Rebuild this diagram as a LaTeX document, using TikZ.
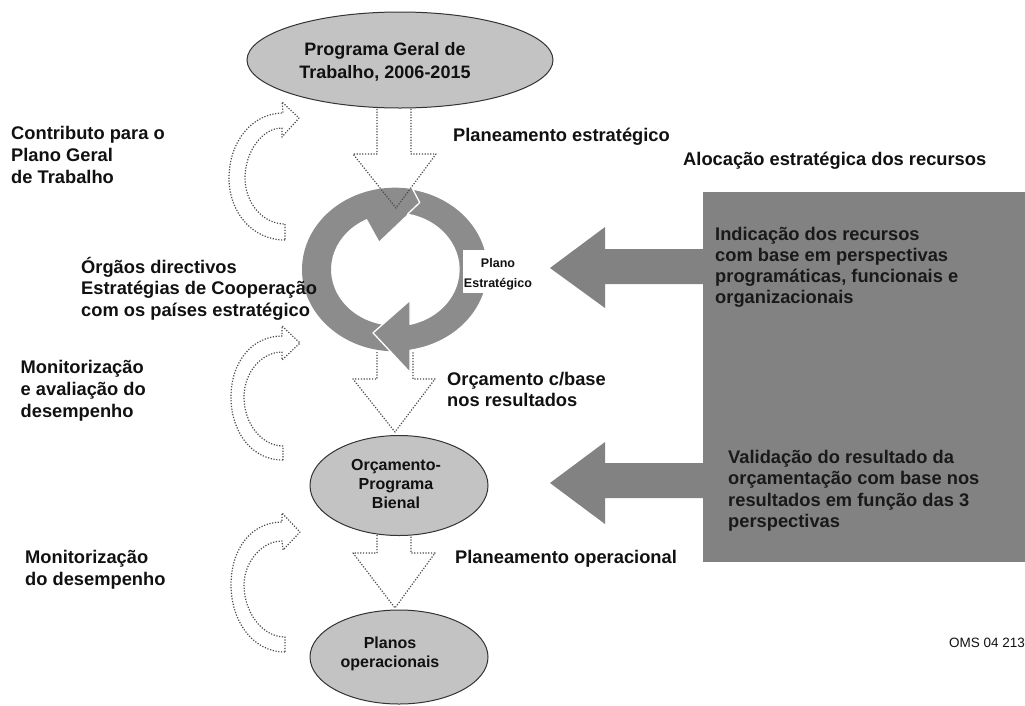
\documentclass[tikz,border=0pt]{standalone}
\usepackage{fontspec}
\setmainfont{Liberation Sans}
\usetikzlibrary{shapes.geometric}
\definecolor{ringgrey}{HTML}{8C8C8C}
\definecolor{boxgrey}{HTML}{828282}
\definecolor{ellfill}{HTML}{C3C3C3}
\definecolor{dotcol}{HTML}{4A4A4A}
\definecolor{txt}{HTML}{111111}
\begin{document}
\begin{tikzpicture}[x=1pt,y=-1pt,
  lbl/.style={font=\fontsize{18.3}{22}\selectfont\bfseries, text=txt, align=left, anchor=base west, inner sep=0pt},
  boxlbl/.style={font=\fontsize{18.3}{21}\selectfont\bfseries, text=black!90, align=left, anchor=base west, inner sep=0pt},
  elltxt/.style={font=\fontsize{16}{19}\selectfont\bfseries, text=txt, align=center, anchor=base, inner sep=0pt},
  ell/.style={ellipse, draw=black!80, line width=1pt, fill=ellfill, inner sep=0pt},
  dotarrow/.style={draw=dotcol, line width=1.2pt, dash pattern=on 1.2pt off 1.6pt, line join=round},
  bigarrow/.style={fill=boxgrey}]
\clip (0,0) rectangle (1025,705);
\useasboundingbox (0,0) rectangle (1025,705);

% right grey box and block arrows
\node[fill=boxgrey, inner sep=0pt, minimum width=330pt, minimum height=370pt, anchor=north west] (rbox) at (703,192) {};
\fill[bigarrow] (710,249) -- (605,249) -- (605,227) -- (550,268) -- (605,308) -- (605,284) -- (710,284) -- cycle;
\fill[bigarrow] (710,463) -- (605,463) -- (605,442) -- (550,483) -- (605,524) -- (605,498) -- (710,498) -- cycle;

% dotted arrow cycle -> budget (under the cycle)
\draw[dotarrow] (377,352) -- (377,379) -- (353,379) -- (395,432) -- (435,379) -- (413,379) -- (413,352);

% cycle
\begin{scope}[shift={(395,269.5)}, yscale=-0.88]
 \fill[ringgrey] (-12.72,-62.72) -- (-22,-72) -- (-4.84,-92.88)
   arc[start angle=267.02, end angle=79, radius=93]
   -- (24.72,76.08) -- (-15.78,32.36) -- (-28.06,57.52)
   arc[start angle=116, end angle=258.54, radius=64] -- cycle;
 \filldraw[fill=ringgrey, draw=white, line width=1.3pt, line join=round]
   (17.75,91.29) -- (24.72,76.08) -- (12.40,62.78)
   arc[start angle=78.83, end angle=-76.4, radius=64]
   -- (15,-35) -- (-22,-72) -- (15,-117) -- (15,-91.8)
   arc[start angle=-80.7, end angle=79, radius=93] -- cycle;
\end{scope}
\node[fill=white, inner sep=0pt, minimum width=82pt, minimum height=43pt, anchor=north west] (pebox) at (463,250) {};
\node[font=\fontsize{12.5}{20}\selectfont\bfseries, text=txt, align=center, anchor=base, inner sep=0pt] (pe) at (498,287) {Plano\\Estratégico};

% dotted arrow top ellipse -> cycle (over the cycle)
\draw[dotarrow] (377,106) -- (377,154) -- (353,154) -- (396,208) -- (436,154) -- (411,154) -- (411,106);
% dotted arrow budget -> operational plans
\draw[dotarrow] (377,535) -- (377,553) -- (353,553) -- (395,608) -- (435,553) -- (411,553) -- (411,535);

% ellipses
\node[ell, minimum width=306pt, minimum height=96pt] (pg) at (400,60) {};
\node[font=\fontsize{18}{23}\selectfont\bfseries, text=txt, align=center, anchor=base, inner sep=0pt] (pgt) at (385,78) {Programa Geral de\\Trabalho, 2006-2015};
\node[ell, minimum width=178pt, minimum height=100pt] (ob) at (399,485.5) {};
\node[elltxt] (obt) at (396,508) {Orçamento-\\Programa\\Bienal};
\node[ell, minimum width=178pt, minimum height=94pt] (po) at (399,657) {};
\node[elltxt] (pot) at (390,667) {Planos\\operacionais};

% curved dotted arrows
\draw[dotarrow] (285,240) .. controls (252,240) and (229,212) .. (229,178)
  .. controls (229,142) and (252,113) .. (283,113) -- (282,102) -- (299,118) -- (282,137) -- (282,128)
  .. controls (262,128) and (245,152) .. (245,178) .. controls (245,202) and (262,224) .. (285,224) -- cycle;
\draw[dotarrow] (283,460) .. controls (250,460) and (231,430) .. (231,397)
  .. controls (231,362) and (252,336) .. (282,336) -- (282,326) -- (300,343) -- (282,360) -- (282,352)
  .. controls (262,352) and (244,372) .. (244,397) .. controls (244,424) and (262,446) .. (283,446) -- cycle;
\draw[dotarrow] (285,652) .. controls (252,652) and (231,620) .. (231,585)
  .. controls (231,548) and (252,522) .. (282,522) -- (282,513) -- (300,532) -- (283,550) -- (282,541)
  .. controls (262,541) and (244,562) .. (244,585) .. controls (244,612) and (262,637) .. (285,637) -- cycle;

% labels (anchor = baseline of the last line)
\node[lbl] (contrib) at (11,183) {Contributo para o\\Plano Geral\\de Trabalho};
\node[lbl] (plest) at (453,141.5) {Planeamento estratégico};
\node[lbl] (aloc) at (683,165) {Alocação estratégica dos recursos};
\node[lbl, font=\fontsize{18.3}{21.8}\selectfont\bfseries] (orgaos) at (81,316.6) {Órgãos directivos\\Estratégias de Cooperação\\com os países estratégico};
\node[lbl] (monav) at (20.5,417) {Monitorização\\e avaliação do\\desempenho};
\node[lbl, font=\fontsize{18.3}{21}\selectfont\bfseries] (orcres) at (447,406) {Orçamento c/base\\nos resultados};
\node[lbl] (plop) at (455,563) {Planeamento operacional};
\node[lbl] (mondes) at (25,585) {Monitorização\\do desempenho};
\node[boxlbl, font=\fontsize{18.3}{20.7}\selectfont\bfseries] (ind) at (715,303) {Indicação dos recursos\\com base em perspectivas\\programáticas, funcionais e\\organizacionais};
\node[boxlbl, font=\fontsize{18.3}{21.5}\selectfont\bfseries] (val) at (728,527.5) {Validação do resultado da\\orçamentação com base nos\\resultados em função das 3\\perspectivas};
\node[font=\fontsize{13.5}{16}\selectfont, text=txt, anchor=base west, inner sep=0pt] (oms) at (949,647) {OMS 04 213};
\end{tikzpicture}
\end{document}
